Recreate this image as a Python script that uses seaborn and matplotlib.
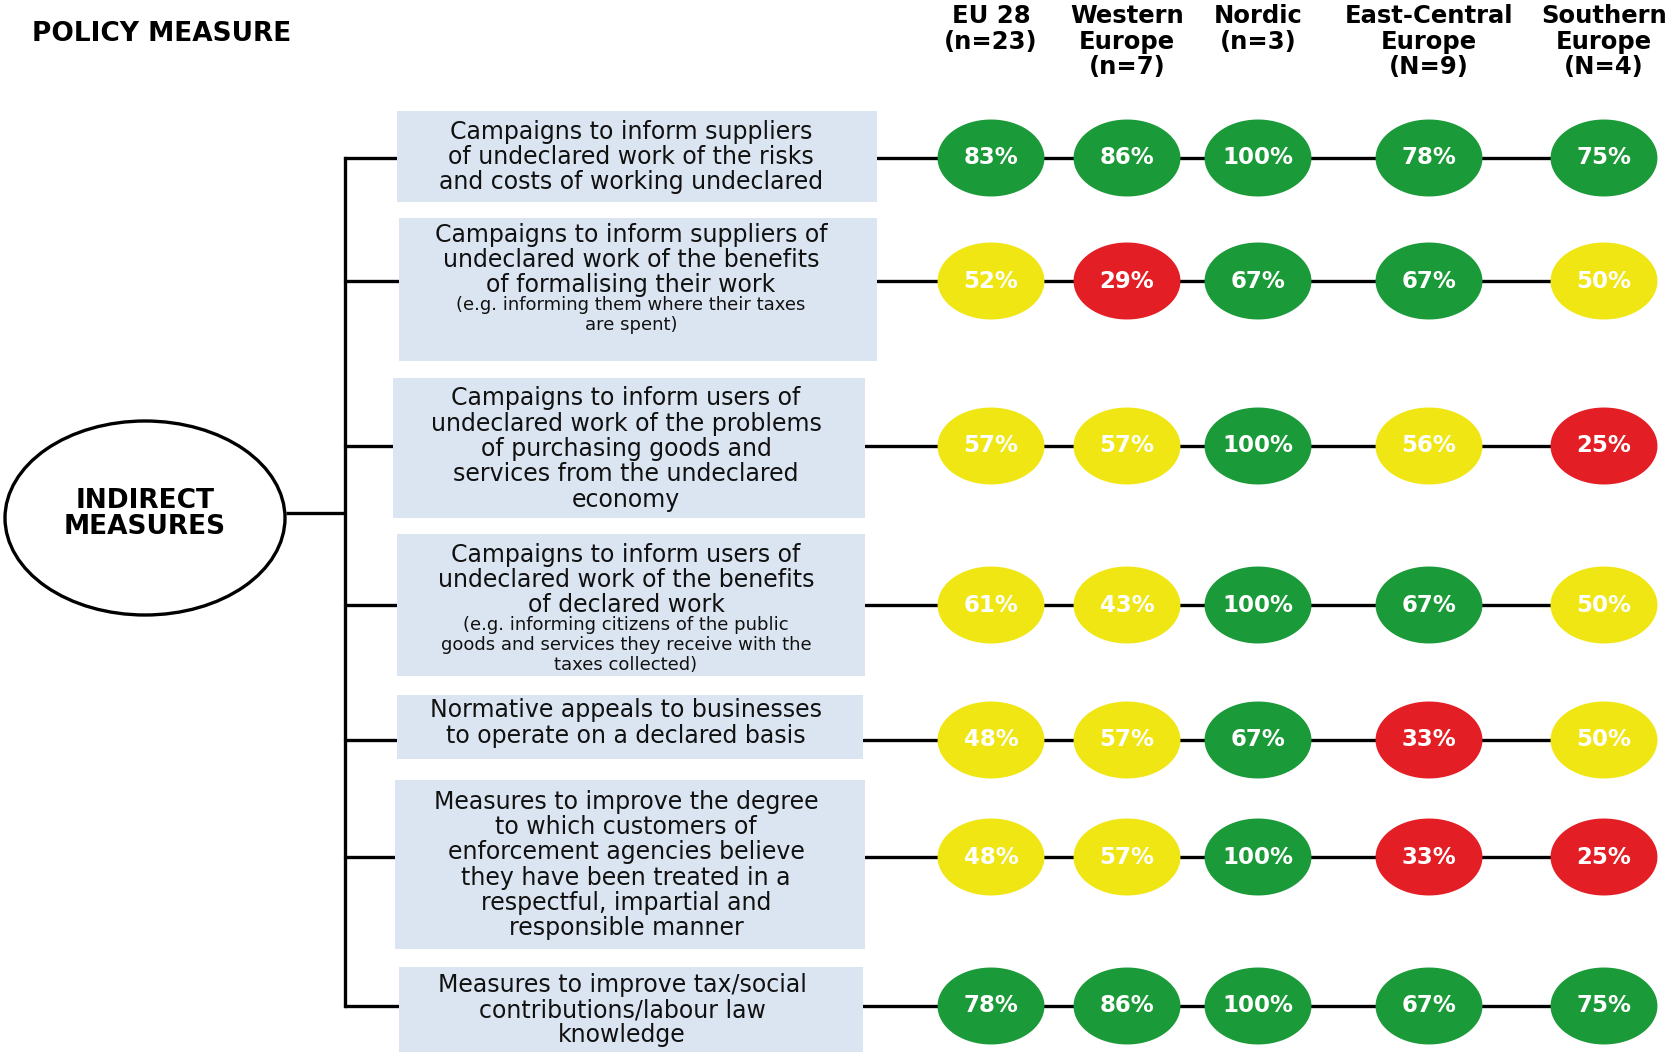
import numpy as np
import pandas as pd
import matplotlib
matplotlib.use("Agg")
import matplotlib.pyplot as plt
from matplotlib.patches import Ellipse, Rectangle
from matplotlib.path import Path
from matplotlib.markers import MarkerStyle
import seaborn as sns

# data
regions = ["EU 28\n(n=23)", "Western\nEurope\n(n=7)", "Nordic\n(n=3)",
           "East-Central\nEurope\n(N=9)", "Southern\nEurope\n(N=4)"]
measures = [
    "Campaigns to inform suppliers\nof undeclared work of the risks\nand costs of working undeclared",
    "Campaigns to inform suppliers of\nundeclared work of the benefits\nof formalising their work",
    "Campaigns to inform users of\nundeclared work of the problems\nof purchasing goods and\nservices from the undeclared\neconomy",
    "Campaigns to inform users of\nundeclared work of the benefits\nof declared work",
    "Normative appeals to businesses\nto operate on a declared basis",
    "Measures to improve the degree\nto which customers of\nenforcement agencies believe\nthey have been treated in a\nrespectful, impartial and\nresponsible manner",
    "Measures to improve tax/social\ncontributions/labour law\nknowledge",
]
notes = [
    "",
    "(e.g. informing them where their taxes\nare spent)",
    "",
    "(e.g. informing citizens of the public\ngoods and services they receive with the\ntaxes collected)",
    "", "", "",
]
eu28 = [83, 52, 57, 61, 48, 48, 78]
western = [86, 29, 57, 43, 57, 57, 86]
nordic = [100, 67, 100, 100, 67, 100, 100]
east_central = [78, 67, 56, 67, 33, 33, 67]
southern = [75, 50, 25, 50, 50, 25, 75]

# layout (pixel coords)
W, H = 1675, 1052
col_x = [991, 1127, 1258, 1429, 1604]
row_y = [158, 281, 446, 605, 740, 857, 1006]
boxes = [(397, 111, 877, 202), (399, 218, 877, 361), (393, 378, 865, 518),
         (397, 534, 865, 676), (397, 695, 863, 759), (395, 780, 865, 949),
         (399, 967, 863, 1060)]
main_y = [157, 260, 449, 580, 723, 865, 1010]
note_y = [0, 315, 0, 645, 0, 0, 0]
text_x = [631, 631, 626, 626, 626, 626, 622]

colors = {"high": "#1b9a39", "mid": "#f0e614", "low": "#e31e25"}

def level(v):
    if v >= 67:
        return "high"
    if v > 33:
        return "mid"
    return "low"

series = [eu28, western, nordic, east_central, southern]
rows = []
for i in range(len(measures)):
    for j, s in enumerate(series):
        rows.append({"x": col_x[j], "y": row_y[i], "value": s[i], "level": level(s[i])})
df = pd.DataFrame(rows)

sns.set_style("white")
plt.rcParams["font.family"] = ["DejaVu Sans"]
plt.rcParams["text.color"] = "black"

fig = plt.figure(figsize=(W / 100, H / 100), dpi=100)
ax = fig.add_axes([0, 0, 1, 1])

# tree
lw = 2.4
ax.add_patch(Ellipse((145, 518), 280, 194, fill=False, lw=lw, ec="black"))
ax.plot([286, 345], [513, 513], color="black", lw=lw, solid_capstyle="butt")
ax.plot([345, 345], [row_y[0], row_y[-1]], color="black", lw=lw, solid_capstyle="projecting")
for i, (x0, y0, x1, y1) in enumerate(boxes):
    ax.plot([345, x0], [row_y[i], row_y[i]], color="black", lw=lw)
    ax.plot([x1, col_x[-1]], [row_y[i], row_y[i]], color="black", lw=lw, zorder=1)
    ax.add_patch(Rectangle((x0, y0), x1 - x0, y1 - y0, color="#dbe5f1", lw=0, zorder=2))
    ax.text(text_x[i], main_y[i], measures[i], ha="center", va="center",
            fontsize=17, linespacing=1.07, color="#111111", zorder=3)
    if notes[i]:
        ax.text(text_x[i], note_y[i], notes[i], ha="center", va="center",
                fontsize=13, linespacing=1.12, color="#111111", zorder=3)

ax.text(145, 514, "INDIRECT\nMEASURES", ha="center", va="center",
        fontsize=19, fontweight="bold", linespacing=1.0)
ax.text(32, 34, "POLICY MEASURE", ha="left", va="center", fontsize=19, fontweight="bold")
for j, r in enumerate(regions):
    ax.text(col_x[j], 4, r, ha="center", va="top", fontsize=17.5,
            fontweight="bold", linespacing=1.08)

# circles
t = np.linspace(0, 2 * np.pi, 80)
ell = Path(np.column_stack([np.cos(t), 0.72 * np.sin(t)]), closed=True)
sns.scatterplot(data=df, x="x", y="y", hue="level", palette=colors,
                marker=MarkerStyle(ell), s=77 ** 2, linewidth=0, legend=False,
                ax=ax, zorder=4)
for _, r in df.iterrows():
    ax.text(r["x"], r["y"], f"{r['value']}%", ha="center", va="center",
            color="white", fontsize=16.5, fontweight="bold", zorder=5)

ax.set_xlim(0, W)
ax.set_ylim(H, 0)
ax.axis("off")
fig.savefig("out.png", dpi=100)
